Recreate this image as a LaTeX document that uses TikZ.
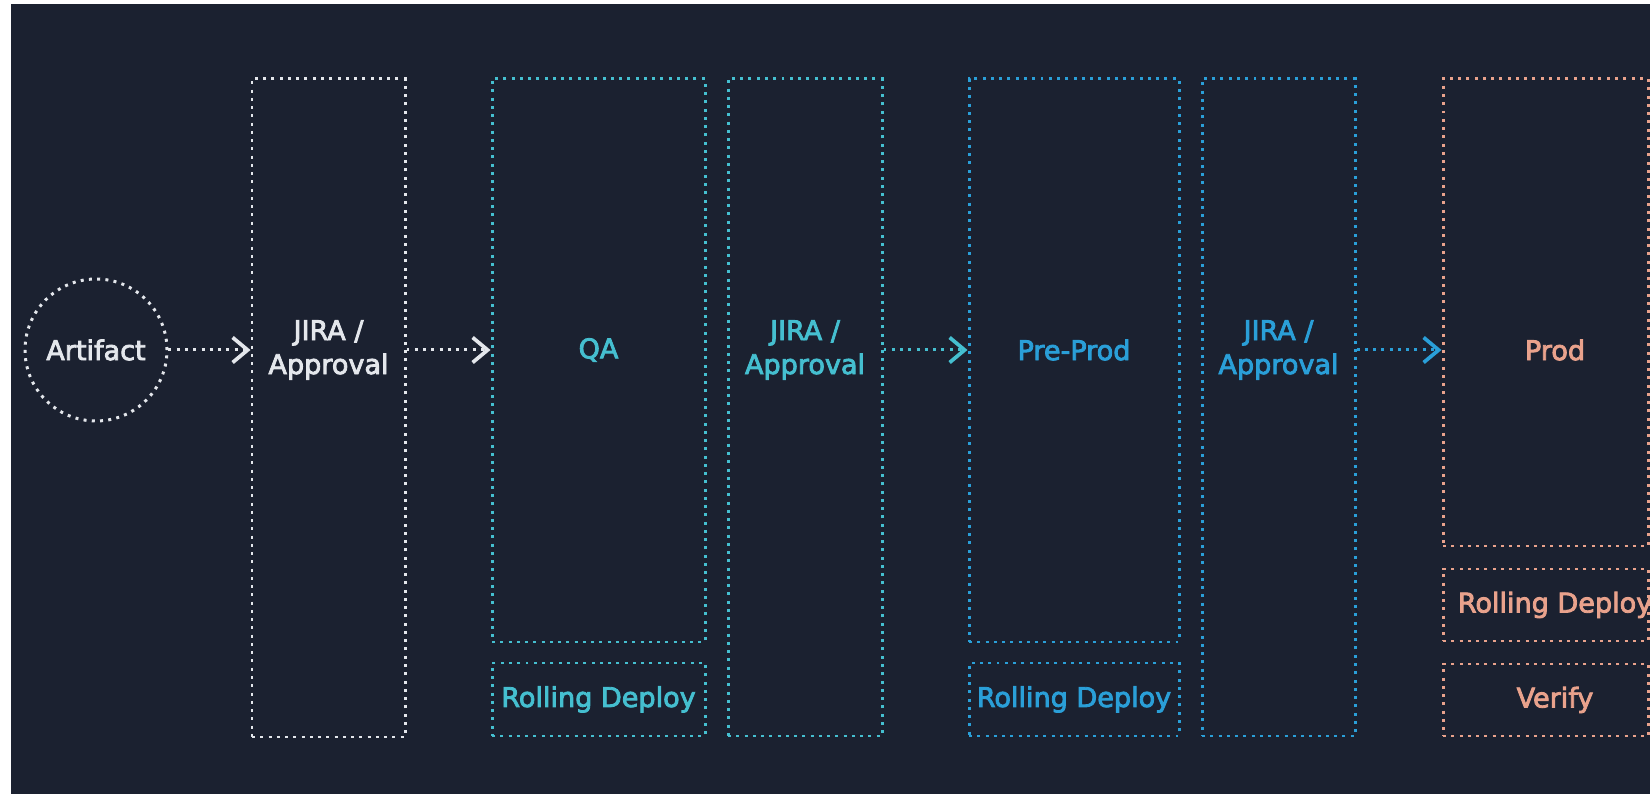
\documentclass[tikz,border=0pt]{standalone}
\usepackage{fontspec}
\setmainfont{DejaVu Sans}
\usetikzlibrary{arrows.meta}
\definecolor{bg}{HTML}{1B2130}
\definecolor{pale}{HTML}{E4E7EC}
\definecolor{tealc}{HTML}{45BFD0}
\definecolor{bluec}{HTML}{2A9FD8}
\definecolor{salmon}{HTML}{E9A28C}

\begin{document}
\begin{tikzpicture}[
    dots/.style={line width=1.7pt, dash pattern=on 1.7pt off 3pt},
    stage/.style={dots, draw, rectangle, inner sep=0pt},
    txt/.style={font=\fontsize{15.4}{19.3}\selectfont\addfontfeatures{FakeBold=3}, align=center},
    flow/.style={dots, -{Straight Barb[length=0.3cm,width=0.5cm,line width=2.1pt]}}
  ]
            \useasboundingbox (0,0) rectangle (33,15.88);
            \clip (0,0) rectangle (33,15.88);
            \fill[white] (0,0) rectangle (33,15.88);
            \fill[bg] (0.22,0) rectangle (33,15.8);
            \node[dots, draw=pale, circle, minimum size=2.84cm, text=pale, txt] (art) at (1.92,8.88) {Artifact};
            \node[stage, draw=pale, minimum width=3.06cm, minimum height=13.16cm] (j1) at (6.57,7.72) {};
            \node[stage, draw=tealc, minimum width=4.26cm, minimum height=11.26cm] (qa) at (11.97,8.67) {};
            \node[stage, draw=tealc, minimum width=4.26cm, minimum height=1.46cm, txt, text=tealc] (qaroll) at (11.97,1.89) {Rolling Deploy};
            \node[stage, draw=tealc, minimum width=3.08cm, minimum height=13.14cm] (j2) at (16.10,7.73) {};
            \node[stage, draw=bluec, minimum width=4.2cm, minimum height=11.26cm] (pre) at (21.48,8.67) {};
            \node[stage, draw=bluec, minimum width=4.2cm, minimum height=1.46cm, txt, text=bluec] (preroll) at (21.48,1.89) {Rolling Deploy};
            \node[stage, draw=bluec, minimum width=3.06cm, minimum height=13.14cm] (j3) at (25.57,7.73) {};
            \node[stage, draw=salmon, minimum width=4.1cm, minimum height=9.34cm] (prod) at (30.91,9.63) {};
            \node[stage, draw=salmon, minimum width=4.1cm, minimum height=1.44cm] (prodroll) at (30.91,3.78) {};
            \node[stage, draw=salmon, minimum width=4.1cm, minimum height=1.44cm] (verify) at (30.91,1.88) {};
            \node[txt, text=pale] (j1-t) at (j1 |- art) {JIRA /\\Approval};
            \node[txt, text=tealc] (qa-t) at (qa |- art) {QA};
            \node[txt, text=tealc] (j2-t) at (j2 |- art) {JIRA /\\Approval};
            \node[txt, text=bluec] (pre-t) at (pre |- art) {Pre-Prod};
            \node[txt, text=bluec] (j3-t) at (j3 |- art) {JIRA /\\Approval};
            \node[txt, text=salmon] (prod-t) at (31.1,8.88) {Prod};
            \node[txt, text=salmon] (prodroll-t) at (prodroll -| prod-t) {Rolling Deploy};
            \node[txt, text=salmon] (verify-t) at (verify -| prod-t) {Verify};
            \draw[flow, pale] (art) -- (art -| j1.west);
            \draw[flow, pale] (art -| j1.east) -- (art -| qa.west);
            \draw[flow, tealc] (art -| j2.east) -- (art -| pre.west);
            \draw[flow, bluec] (art -| j3.east) -- (art -| prod.west);
\end{tikzpicture}
\end{document}
